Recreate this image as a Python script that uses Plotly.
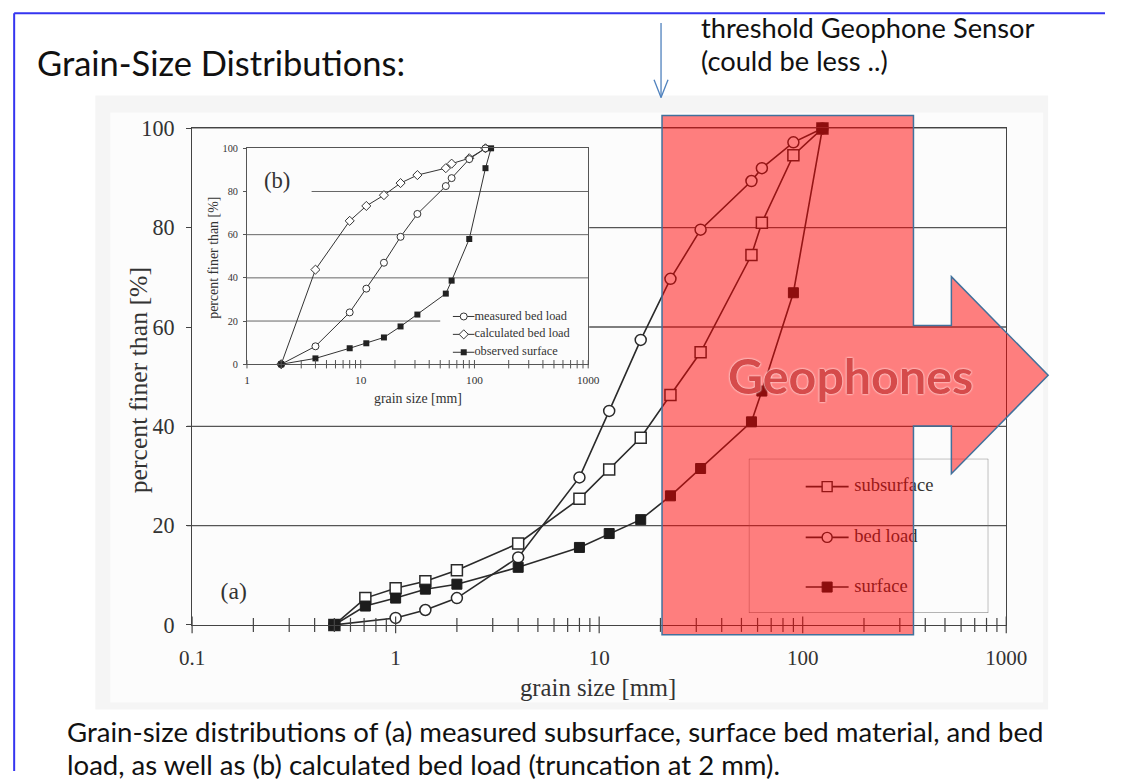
import numpy as np
import plotly.graph_objects as go

W, H = 1126, 784

# ---- panel (a): measured grain-size distributions ----
sizes_a = [0.5, 0.71, 1.0, 1.4, 2.0, 4.0, 8.0, 11.2, 16.0, 22.4, 31.5, 56.0, 63.0, 90.0, 125.0]
subsurface = [0, 5.4, 7.4, 8.8, 11.0, 16.4, 25.4, 31.3, 37.7, 46.3, 54.9, 74.5, 81.0, 94.6, 100]
surface = [0, 3.8, 5.4, 7.2, 8.2, 11.6, 15.6, 18.4, 21.2, 26.0, 31.5, 40.9, 47.1, 66.9, 100]
sizes_bed = [0.5, 1.0, 1.4, 2.0, 4.0, 8.0, 11.2, 16.0, 22.4, 31.5, 56.0, 63.0, 90.0, 125.0]
bed_load = [0, 1.4, 3.0, 5.4, 13.6, 29.7, 43.1, 57.4, 69.7, 79.6, 89.4, 92.0, 97.2, 100]

# ---- panel (b): bed load truncated at 2 mm ----
sizes_b = [2, 4, 8, 11.2, 16, 22.4, 31.5, 56, 63, 90, 125]
measured_bed = [0, 8.3, 24.0, 35.0, 47.0, 59.0, 69.6, 82.5, 86.2, 95.0, 100]
calculated_bed = [0, 43.8, 66.4, 73.3, 78.3, 83.9, 87.6, 90.8, 92.9, 95.4, 100]
sizes_b_surf = [2, 4, 8, 11.2, 16, 22.4, 31.5, 56, 63, 90, 125, 140]
observed_surface = [0, 2.7, 7.4, 9.7, 12.4, 17.5, 23.0, 32.7, 38.7, 58.0, 90.8, 100]

y_ticks = [0, 20, 40, 60, 80, 100]
x_ticks_a = [0.1, 1, 10, 100, 1000]
x_ticks_b = [1, 10, 100, 1000]
legend_a = ["subsurface", "bed load", "surface"]
legend_b = ["measured bed load", "calculated bed load", "observed surface"]

SERIF = "Liberation Serif"
SANS = "Lato"
INK = "#2a2a2a"

# page placement: slide pixel positions are mapped onto the figure through
# a small inset/scale of the rendered page
OX, OY, SX, SY = 12.5, 11.0, 0.972, 0.973


def px(x):
    return (x - OX) / SX / W


def py(y):
    return 1 - (y - OY) / SY / H


def fs(s):
    return round(s / SX, 2)


def log_ticks(decades):
    minor, major = [], []
    for d in decades:
        major.append(d)
        minor += [d * k for k in range(2, 10)]
    return minor, major


fig = go.Figure()

# main curves
fig.add_trace(go.Scatter(
    x=sizes_a, y=subsurface, mode="lines+markers", cliponaxis=False,
    line=dict(color=INK, width=1.6),
    marker=dict(symbol="square", size=11, color="white", line=dict(color=INK, width=1.5)),
    xaxis="x", yaxis="y", showlegend=False))
fig.add_trace(go.Scatter(
    x=sizes_bed, y=bed_load, mode="lines+markers", cliponaxis=False,
    line=dict(color=INK, width=1.6),
    marker=dict(symbol="circle", size=11, color="white", line=dict(color=INK, width=1.5)),
    xaxis="x", yaxis="y", showlegend=False))
fig.add_trace(go.Scatter(
    x=sizes_a, y=surface, mode="lines+markers", cliponaxis=False,
    line=dict(color=INK, width=1.6),
    marker=dict(symbol="square", size=10, color="#1c1c1c", line=dict(color="#1c1c1c", width=1)),
    xaxis="x", yaxis="y", showlegend=False))

# crossing tick marks on the main grain-size axis
mn, mj = log_ticks([0.1, 1, 10, 100])
fig.add_trace(go.Scatter(
    x=mn, y=[0] * len(mn), mode="markers", cliponaxis=False, hoverinfo="skip",
    marker=dict(symbol="line-ns", size=10, line=dict(color="#444", width=1.2)),
    xaxis="x", yaxis="y", showlegend=False))
fig.add_trace(go.Scatter(
    x=mj + [1000], y=[0] * (len(mj) + 1), mode="markers", cliponaxis=False, hoverinfo="skip",
    marker=dict(symbol="line-ns", size=12, line=dict(color="#444", width=1.2)),
    xaxis="x", yaxis="y", showlegend=False))

# inset curves
fig.add_trace(go.Scatter(
    x=sizes_b, y=calculated_bed, mode="lines+markers", cliponaxis=False,
    line=dict(color="#333", width=1),
    marker=dict(symbol="diamond", size=7, color="white", line=dict(color="#333", width=1)),
    xaxis="x2", yaxis="y2", showlegend=False))
fig.add_trace(go.Scatter(
    x=sizes_b, y=measured_bed, mode="lines+markers", cliponaxis=False,
    line=dict(color="#333", width=1),
    marker=dict(symbol="circle", size=7, color="white", line=dict(color="#333", width=1)),
    xaxis="x2", yaxis="y2", showlegend=False))
fig.add_trace(go.Scatter(
    x=sizes_b_surf, y=observed_surface, mode="lines+markers", cliponaxis=False,
    line=dict(color="#333", width=1),
    marker=dict(symbol="square", size=6, color="#222"),
    xaxis="x2", yaxis="y2", showlegend=False))
bmn, bmj = log_ticks([1, 10, 100])
fig.add_trace(go.Scatter(
    x=bmn + bmj + [1000], y=[0] * (len(bmn) + len(bmj) + 1), mode="markers",
    cliponaxis=False, hoverinfo="skip",
    marker=dict(symbol="line-ns", size=6, line=dict(color="#555", width=1)),
    xaxis="x2", yaxis="y2", showlegend=False))

# legend of panel (a), drawn on its own unit axes
ly_a = [0.819, 0.490, 0.168]
leg_marks = [dict(symbol="square", size=10, color="white", line=dict(color=INK, width=1.4)),
             dict(symbol="circle", size=10, color="white", line=dict(color=INK, width=1.4)),
             dict(symbol="square", size=10, color="#1c1c1c", line=dict(color="#1c1c1c", width=1))]
for yy, mk, name in zip(ly_a, leg_marks, legend_a):
    fig.add_trace(go.Scatter(
        x=[0.2375, 0.4167], y=[yy] * 2, mode="lines", cliponaxis=False,
        line=dict(color=INK, width=1.6), xaxis="x3", yaxis="y3", showlegend=False))
    fig.add_trace(go.Scatter(
        x=[0.327], y=[yy], mode="markers", cliponaxis=False, marker=mk,
        xaxis="x3", yaxis="y3", showlegend=False))
    fig.add_trace(go.Scatter(
        x=[0.44], y=[yy], mode="text", text=[name], textposition="middle right",
        cliponaxis=False, textfont=dict(family=SERIF, size=fs(18), color="#333"),
        xaxis="x3", yaxis="y3", showlegend=False))

# legend of panel (b)
ly_b = [0.833, 0.5, 0.167]
leg_marks_b = [dict(symbol="circle", size=7, color="white", line=dict(color="#333", width=1)),
               dict(symbol="diamond", size=7, color="white", line=dict(color="#333", width=1)),
               dict(symbol="square", size=6, color="#222")]
for yy, mk, name in zip(ly_b, leg_marks_b, legend_b):
    fig.add_trace(go.Scatter(
        x=[0.027, 0.2], y=[yy] * 2, mode="lines", cliponaxis=False,
        line=dict(color="#333", width=1), xaxis="x4", yaxis="y4", showlegend=False))
    fig.add_trace(go.Scatter(
        x=[0.114], y=[yy], mode="markers", cliponaxis=False, marker=mk,
        xaxis="x4", yaxis="y4", showlegend=False))
    fig.add_trace(go.Scatter(
        x=[0.2], y=[yy], mode="text", text=[name], textposition="middle right",
        cliponaxis=False, textfont=dict(family=SERIF, size=fs(12), color="#333"),
        xaxis="x4", yaxis="y4", showlegend=False))

# panel label (a) as a text mark
fig.add_trace(go.Scatter(x=[0.16], y=[6.5], mode="text", text=["(a)"], cliponaxis=False,
                         textfont=dict(family=SERIF, size=fs(23), color="#333"),
                         xaxis="x", yaxis="y", showlegend=False))

shapes = []
# scanned page background
shapes.append(dict(type="rect", xref="paper", yref="paper", layer="below",
                   x0=px(95), x1=px(1050), y0=py(712), y1=py(95),
                   fillcolor="#f5f5f5", line=dict(width=0)))
shapes.append(dict(type="rect", xref="paper", yref="paper", layer="below",
                   x0=px(110), x1=px(1045), y0=py(705), y1=py(112),
                   fillcolor="#fcfcfc", line=dict(width=0)))
# main gridlines (the inset hides the 60 and 80 lines on the left)
for g in [20, 40, 100]:
    shapes.append(dict(type="line", xref="paper", yref="y", layer="below",
                       x0=px(187), x1=px(1008), y0=g, y1=g,
                       line=dict(color="#555", width=1.3)))
for g in [60, 80]:
    shapes.append(dict(type="line", xref="paper", yref="y", layer="below",
                       x0=px(590), x1=px(1008), y0=g, y1=g,
                       line=dict(color="#555", width=1.3)))
# inset gridlines
shapes.append(dict(type="line", xref="x2", yref="y2", layer="below",
                   x0=1, x1=50, y0=20, y1=20, line=dict(color="#666", width=1)))
shapes.append(dict(type="line", xref="x2", yref="y2", layer="below",
                   x0=3.7, x1=1000, y0=80, y1=80, line=dict(color="#666", width=1)))
for g in [40, 60]:
    shapes.append(dict(type="line", xref="x2", yref="y2", layer="below",
                       x0=1, x1=1000, y0=g, y1=g, line=dict(color="#666", width=1)))
# legend frame of panel (a)
shapes.append(dict(type="rect", xref="x3", yref="y3", layer="below",
                   x0=0, x1=1, y0=0, y1=1, line=dict(color="#777", width=1)))

# highlighted geophone range with block arrow
poly = [(663, 115), (915, 115), (915, 326), (953, 326), (953, 277), (1050, 376),
        (953, 475), (953, 427), (915, 427), (915, 637), (663, 637)]
path = "M " + " L ".join(f"{px(a):.5f},{py(b):.5f}" for a, b in poly) + " Z"
shapes.append(dict(type="path", xref="paper", yref="paper", layer="above", path=path,
                   fillcolor="rgba(255,0,0,0.5)", line=dict(color="#41719c", width=1.5)))

# slide frame
shapes.append(dict(type="line", xref="paper", yref="paper", x0=1.2 / W, x1=1,
                   y0=1 - 1.2 / H, y1=1 - 1.2 / H, line=dict(color="#3535f0", width=2)))
shapes.append(dict(type="line", xref="paper", yref="paper", x0=1.2 / W, x1=1.2 / W,
                   y0=1 - 1.2 / H, y1=0, line=dict(color="#3535f0", width=2)))

# threshold pointer
for (a, b, c, d) in [(662, 22, 662, 97), (655, 79, 662, 97), (669, 79, 662, 97)]:
    shapes.append(dict(type="line", xref="paper", yref="paper", x0=px(a), y0=py(b),
                       x1=px(c), y1=py(d), line=dict(color="#4f81bd", width=1.3)))

annotations = [
    dict(text="Grain-Size Distributions:", x=px(35), y=py(62), xanchor="left", yanchor="middle",
         font=dict(family=SANS, size=fs(33.5), color="#111")),
    dict(text="threshold Geophone Sensor", x=px(700), y=py(27), xanchor="left", yanchor="middle",
         font=dict(family=SANS, size=fs(26.5), color="#111")),
    dict(text="(could be less ..)", x=px(700), y=py(60), xanchor="left", yanchor="middle",
         font=dict(family=SANS, size=fs(26.5), color="#111")),
    dict(text="Grain-size distributions of (a) measured subsurface, surface bed material, and bed",
         x=px(65), y=py(734), xanchor="left", yanchor="middle",
         font=dict(family=SANS, size=fs(26.8), color="#111")),
    dict(text="load, as well as (b) calculated bed load (truncation at 2 mm).",
         x=px(65), y=py(767), xanchor="left", yanchor="middle",
         font=dict(family=SANS, size=fs(26.8), color="#111")),
    dict(text="Geophones", x=px(852), y=py(376), xanchor="center", yanchor="middle",
         font=dict(family=SANS, size=fs(47), color="#d64b4b", weight="bold",
                   shadow="0 0 2px #ffe4e4, 0 0 2px #ffe4e4")),
    dict(text="(b)", x=px(277), y=py(180), xanchor="center", yanchor="middle",
         font=dict(family=SERIF, size=fs(22), color="#333")),
    dict(text="grain size [mm]", x=px(599), y=py(690), xanchor="center", yanchor="middle",
         font=dict(family=SERIF, size=fs(24), color="#333")),
    dict(text="percent finer than [%]", x=px(138), y=py(381), xanchor="center", yanchor="middle",
         textangle=-90, font=dict(family=SERIF, size=fs(25), color="#333")),
    dict(text="grain size [mm]", x=px(418), y=py(399), xanchor="center", yanchor="middle",
         font=dict(family=SERIF, size=fs(13.5), color="#333")),
    dict(text="percent finer than [%]", x=px(214), y=py(258), xanchor="center", yanchor="middle",
         textangle=-90, font=dict(family=SERIF, size=fs(13.5), color="#333")),
]
for a in annotations:
    a.update(xref="paper", yref="paper", showarrow=False)

unit_axis = dict(range=[0, 1], visible=False, fixedrange=True)

fig.update_layout(
    width=W, height=H, margin=dict(l=0, r=0, t=0, b=0),
    paper_bgcolor="white", plot_bgcolor="rgba(0,0,0,0)",
    shapes=shapes, annotations=annotations,
    xaxis=dict(type="log", range=[-1, 3], domain=[px(192), px(1008)], anchor="y",
               showgrid=False, zeroline=False, showline=True, linecolor="#444", linewidth=1.3,
               mirror=True, ticks="", tickvals=x_ticks_a, ticktext=["0.1", "1", "10", "100", "1000"],
               ticklabelstandoff=14, tickfont=dict(family=SERIF, size=fs(20.5), color="#333")),
    yaxis=dict(range=[0, 100], domain=[py(627), py(128)], anchor="x",
               showgrid=False, zeroline=False, showline=True, linecolor="#444", linewidth=1.3,
               mirror=True, ticks="outside", ticklen=5, tickcolor="#444", tickvals=y_ticks,
               ticklabelstandoff=7, tickfont=dict(family=SERIF, size=fs(21.5), color="#333")),
    xaxis2=dict(type="log", range=[0, 3], domain=[px(247), px(589)], anchor="y2",
                showgrid=False, zeroline=False, showline=True, linecolor="#555", linewidth=1,
                mirror=True, ticks="", tickvals=x_ticks_b, ticktext=["1", "10", "100", "1000"],
                ticklabelstandoff=5, tickfont=dict(family=SERIF, size=fs(11), color="#333")),
    yaxis2=dict(range=[0, 100], domain=[py(365), py(148)], anchor="x2",
                showgrid=False, zeroline=False, showline=True, linecolor="#555", linewidth=1,
                mirror=True, ticks="outside", ticklen=3, tickcolor="#555", tickvals=y_ticks,
                ticklabelstandoff=3, tickfont=dict(family=SERIF, size=fs(10), color="#333")),
    xaxis3=dict(domain=[px(750), px(990)], anchor="y3", **unit_axis),
    yaxis3=dict(domain=[py(615), py(460)], anchor="x3", **unit_axis),
    xaxis4=dict(domain=[px(450), px(575)], anchor="y4", **unit_axis),
    yaxis4=dict(domain=[py(362), py(308)], anchor="x4", **unit_axis),
)

fig.write_html("out.html")
